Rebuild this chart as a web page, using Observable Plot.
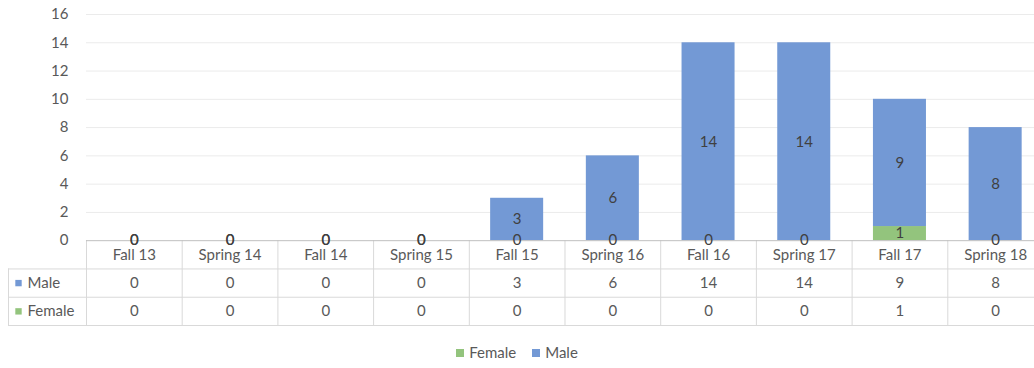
<!DOCTYPE html>
<html>
<head>
<meta charset="utf-8">
<script src="https://cdn.jsdelivr.net/npm/d3@7"></script>
<script src="https://cdn.jsdelivr.net/npm/@observablehq/plot@0.6"></script>
<style>
  html, body { margin: 0; padding: 0; background: #fff; overflow: hidden; }
  #chart svg { overflow: hidden !important; display: block; }
  .legend { font-family: Lato, "Liberation Sans", sans-serif; font-size: 15px; color: #595959;
    display: flex; justify-content: center; gap: 16px; margin-top: 11px; padding-left: 0; width: 1034px; }
  .legend span.sw { display: inline-block; width: 8px; height: 8px; margin-right: 5px; vertical-align: 1px; }
</style>
</head>
<body>
<div id="chart"></div>
<div class="legend">
  <div><span class="sw" style="background:#93c47d"></span>Female</div>
  <div><span class="sw" style="background:#7399d5"></span>Male</div>
</div>
<script>
const categories = ["Fall 13", "Spring 14", "Fall 14", "Spring 15", "Fall 15", "Spring 16", "Fall 16", "Spring 17", "Fall 17", "Spring 18"];
const male   = [0, 0, 0, 0, 3, 6, 14, 14, 9, 8];
const female = [0, 0, 0, 0, 0, 0, 0, 0, 1, 0];
const seriesNames = ["Female", "Male"];
const seriesColors = ["#93c47d", "#7399d5"];
const yTicks = [0, 2, 4, 6, 8, 10, 12, 14, 16];
const tableRows = ["Male", "Female"];

const xStart = -0.815;  // left edge of the table's row-header column (in category units)
const barPad = 0.223;

const stacked = categories.flatMap((c, i) => [
  {i, c, sex: "Female", v: female[i], y1: 0, y2: female[i]},
  {i, c, sex: "Male", v: male[i], y1: female[i], y2: female[i] + male[i]}
]);

const tableCells = categories.flatMap((c, i) => [
  {i, row: "Male", v: male[i], y: -3},
  {i, row: "Female", v: female[i], y: -5}
]);
const rowHeaders = tableRows.map((r, k) => ({row: r, y: -3 - 2 * k}));

const font = "Lato, 'Liberation Sans', sans-serif";
const fs = 15;

const chart = Plot.plot({
  width: 1034,
  height: 332,
  marginLeft: 86,
  marginRight: 0,
  marginTop: 14,
  marginBottom: 7,
  style: {fontFamily: font, fontSize: fs + "px", color: "#595959", background: "#fff", overflow: "hidden"},
  x: {domain: [xStart, 10], range: [8, 1043], axis: null},
  y: {domain: [-6, 16], range: [325, 14], axis: null},
  color: {domain: seriesNames, range: seriesColors},
  marks: [
    Plot.ruleY(yTicks.filter(d => d > 0), {x1: 0, x2: 10, stroke: "#ebebeb", strokeWidth: 1}),
    Plot.axisY({ticks: yTicks, tickSize: 0, tickPadding: 18, fontSize: fs, color: "#595959", anchor: "left"}),
    Plot.rect(stacked, {x1: d => d.i + barPad, x2: d => d.i + 1 - barPad, y1: "y1", y2: "y2", fill: "sex"}),
    // table grid
    Plot.ruleY([-2, -4, -6], {x1: xStart, x2: 10, stroke: "#d9d9d9"}),
    Plot.ruleX(d3.range(0, 11), {y1: -6, y2: 0, stroke: "#d9d9d9"}),
    Plot.ruleX([xStart], {y1: -6, y2: -2, stroke: "#d9d9d9"}),
    Plot.ruleY([0], {x1: 0, x2: 10, stroke: "#bfbfbf"}),
    // data labels
    Plot.text(stacked, {x: d => d.i + 0.5, y: d => (d.y1 + d.y2) / 2, text: d => String(d.v), fill: "#404040", fontSize: fs}),
    // table header & values
    Plot.text(categories, {x: (d, i) => i + 0.5, y: -1, text: d => d, fill: "#595959", fontSize: fs}),
    Plot.text(tableCells, {x: d => d.i + 0.5, y: "y", text: d => String(d.v), fill: "#595959", fontSize: fs}),
    Plot.dot(rowHeaders, {x: xStart, y: "y", dx: 10, symbol: "square", r: 3.6, fill: d => d.row, stroke: null}),
    Plot.text(rowHeaders, {x: xStart, y: "y", dx: 19, text: "row", textAnchor: "start", fill: "#595959", fontSize: fs})
  ]
});
document.getElementById("chart").appendChild(chart);
</script>
</body>
</html>
